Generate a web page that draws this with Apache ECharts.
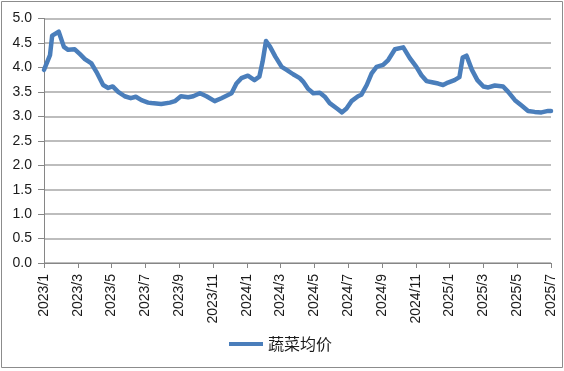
<!DOCTYPE html>
<html>
<head>
<meta charset="utf-8">
<script src="https://cdn.jsdelivr.net/npm/echarts@6/dist/echarts.min.js"></script>
<style>html,body{margin:0;padding:0;background:#fff}#c{width:564px;height:371px}</style>
</head>
<body>
<div id="c"></div>
<script>
// Data
const seriesName = '蔬菜均价';
const dates = [
 '2023-01-01','2023-01-12','2023-01-16','2023-01-28','2023-02-06','2023-02-13','2023-02-24',
 '2023-03-05','2023-03-14','2023-03-26','2023-04-04','2023-04-16','2023-04-25','2023-05-03',
 '2023-05-13','2023-05-25','2023-06-05','2023-06-14','2023-06-24','2023-07-06','2023-07-12',
 '2023-07-30','2023-08-15','2023-08-24','2023-09-04','2023-09-17','2023-09-26','2023-10-08',
 '2023-10-20','2023-11-04','2023-11-16','2023-12-04','2023-12-13','2023-12-22','2024-01-03',
 '2024-01-15','2024-01-24','2024-01-30','2024-02-05','2024-02-12','2024-02-21','2024-03-03',
 '2024-03-12','2024-03-24','2024-04-05','2024-04-11','2024-04-20','2024-04-29','2024-05-11',
 '2024-05-20','2024-05-29','2024-06-11','2024-06-20','2024-06-28','2024-07-07','2024-07-19',
 '2024-07-25','2024-08-04','2024-08-13','2024-08-22','2024-09-03','2024-09-12','2024-09-24',
 '2024-10-09','2024-10-21','2024-11-02','2024-11-11','2024-11-20','2024-12-02','2024-12-11',
 '2024-12-20','2024-12-29','2025-01-10','2025-01-19','2025-01-25','2025-02-01','2025-02-10',
 '2025-02-19','2025-03-01','2025-03-10','2025-03-22','2025-04-06','2025-04-15','2025-04-27',
 '2025-05-09','2025-05-21','2025-06-02','2025-06-14','2025-06-26','2025-07-01'
];
const prices = [
 3.95,4.25,4.65,4.73,4.42,4.36,4.37,
 4.27,4.17,4.08,3.91,3.64,3.58,3.61,
 3.50,3.41,3.37,3.40,3.33,3.28,3.27,
 3.25,3.28,3.31,3.41,3.39,3.41,3.47,
 3.41,3.31,3.37,3.47,3.67,3.78,3.83,
 3.74,3.81,4.12,4.54,4.42,4.22,4.01,
 3.95,3.86,3.78,3.71,3.56,3.47,3.48,
 3.40,3.27,3.16,3.08,3.16,3.31,3.41,
 3.44,3.64,3.88,4.01,4.05,4.15,4.37,
 4.41,4.19,4.01,3.84,3.72,3.69,3.67,
 3.64,3.69,3.74,3.80,4.20,4.24,3.95,
 3.74,3.61,3.59,3.63,3.61,3.50,3.33,
 3.22,3.11,3.09,3.08,3.11,3.11
];
const startYear = 2023;
const yTicks = {min: 0, max: 5, interval: 0.5};
const xMonths = {min: 0, max: 30, interval: 2};

function monthIndex(s) {
  const [y, m, d] = s.split('-').map(Number);
  const dim = new Date(y, m, 0).getDate();
  return (y - startYear) * 12 + (m - 1) + (d - 1) / dim;
}
const points = dates.map((d, i) => [monthIndex(d), prices[i]]);

const font = '"Liberation Sans", "DejaVu Sans", sans-serif';
const chart = echarts.init(document.getElementById('c'), null, {renderer: 'canvas'});
chart.setOption({
  animation: false,
  backgroundColor: '#fff',
  grid: {left: 44, right: 13, top: 18.5, bottom: 108, containLabel: false},
  xAxis: {
    type: 'value', min: xMonths.min, max: xMonths.max, interval: xMonths.interval,
    axisLine: {show: true, lineStyle: {color: '#868686', width: 1}},
    axisTick: {show: true, length: 5, lineStyle: {color: '#868686'}},
    splitLine: {show: false},
    axisLabel: {
      rotate: 90, margin: 11, color: '#1a1a1a', fontSize: 14, fontFamily: font,
      formatter: v => (startYear + Math.floor(v / 12)) + '/' + (v % 12 + 1)
    }
  },
  yAxis: {
    type: 'value', min: yTicks.min, max: yTicks.max, interval: yTicks.interval,
    axisLine: {show: true, lineStyle: {color: '#868686', width: 1}},
    axisTick: {show: true, length: 6, lineStyle: {color: '#868686'}},
    splitLine: {show: true, lineStyle: {color: '#bdbdbd', width: 2}},
    axisLabel: {margin: 12, color: '#1a1a1a', fontSize: 14, fontFamily: font,
      formatter: v => v.toFixed(1)}
  },
  legend: {
    show: true, left: 224, top: 331,
    icon: 'rect', itemWidth: 34, itemHeight: 4, itemGap: 10,
    textStyle: {fontSize: 16, color: '#1a1a1a', fontFamily: '"Noto Sans CJK SC", sans-serif'},
    data: [seriesName]
  },
  graphic: [{
    type: 'rect', silent: true, z: -1,
    shape: {x: 1.5, y: 1.5, width: 561, height: 366},
    style: {fill: 'none', stroke: '#8c8c8c', lineWidth: 1}
  }],
  series: [{
    name: seriesName, type: 'line', data: points,
    showSymbol: false, symbol: 'none', smooth: false,
    lineStyle: {color: '#4a7ebb', width: 4.5, cap: 'round', join: 'round'},
    itemStyle: {color: '#4a7ebb'}
  }]
});
</script>
</body>
</html>
